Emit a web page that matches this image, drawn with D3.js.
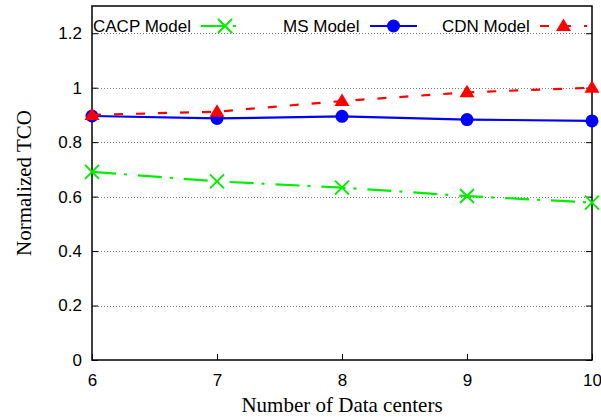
<!DOCTYPE html>
<html>
<head>
<meta charset="utf-8">
<script src="https://cdn.jsdelivr.net/npm/d3@7"></script>
<style>
  html, body { margin: 0; padding: 0; background: #fff; }
  svg { display: block; }
</style>
</head>
<body>
<svg id="chart" width="601" height="418"></svg>
<script>
// Data: normalized total cost of ownership vs. number of data centers
const dataCenters = [6, 7, 8, 9, 10];
const cacpModel = [0.691, 0.656, 0.633, 0.602, 0.578];
const msModel   = [0.896, 0.887, 0.895, 0.883, 0.878];
const cdnModel  = [0.900, 0.912, 0.951, 0.983, 1.000];
const yTicks = [0, 0.2, 0.4, 0.6, 0.8, 1, 1.2];
const xTicks = [6, 7, 8, 9, 10];

const series = [
  { name: "CACP Model", values: cacpModel, color: "#00ee00", dash: "24,8,3,11", marker: "cross" },
  { name: "MS Model",   values: msModel,   color: "#0000ff", dash: null,        marker: "circle" },
  { name: "CDN Model",  values: cdnModel,  color: "#ff0000", dash: "9,13",      marker: "triangle" }
];

const svg = d3.select("#chart");
const m = { left: 92, right: 9, top: 6, bottom: 58 };
const W = 601, H = 418;
const x = d3.scaleLinear().domain([6, 10]).range([m.left, W - m.right]);
const y = d3.scaleLinear().domain([0, 1.3]).range([H - m.bottom, m.top]);

const sansFont = "'Liberation Sans', Arial, Helvetica, sans-serif";
const serifFont = "'Liberation Serif', 'Times New Roman', serif";

// Horizontal dotted grid
svg.append("g")
  .selectAll("line")
  .data(yTicks.filter(d => d > 0))
  .join("line")
  .attr("x1", x(6)).attr("x2", x(10))
  .attr("y1", d => Math.round(y(d)) + 0.5).attr("y2", d => Math.round(y(d)) + 0.5)
  .attr("stroke", "#777").attr("stroke-width", 1)
  .attr("stroke-dasharray", "1,2");

// Axes with inward ticks
const yAxis = d3.axisLeft(y).tickValues(yTicks).tickSize(-6).tickPadding(10)
  .tickFormat(d => d3.format("")(+d.toFixed(1)));
const yAxisR = d3.axisRight(y).tickValues(yTicks).tickSize(-6).tickFormat("");
const xAxis = d3.axisBottom(x).tickValues(xTicks).tickSize(-6).tickPadding(14)
  .tickFormat(d3.format("d"));

function styleAxis(g) {
  g.select(".domain").remove();
  g.selectAll(".tick line").attr("stroke", "#000");
  g.selectAll(".tick text")
    .attr("fill", "#000")
    .style("font-family", sansFont)
    .style("font-size", "17px");
}

svg.append("g").attr("transform", `translate(${x(6)},0)`).call(yAxis).call(styleAxis);
svg.append("g").attr("transform", `translate(${x(10)},0)`).call(yAxisR).call(styleAxis);
svg.append("g").attr("transform", `translate(0,${y(0)})`).call(xAxis).call(styleAxis);

// Plot border
svg.append("rect")
  .attr("x", x(6)).attr("y", y(1.3))
  .attr("width", x(10) - x(6)).attr("height", y(0) - y(1.3))
  .attr("fill", "none").attr("stroke", "#000").attr("stroke-width", 1.5);

// Axis titles
svg.append("text")
  .attr("x", (x(6) + x(10)) / 2).attr("y", 412)
  .attr("text-anchor", "middle")
  .style("font-family", serifFont).style("font-size", "21px")
  .text("Number of Data centers");

svg.append("text")
  .attr("transform", `translate(31,${(y(0) + y(1.3)) / 2}) rotate(-90)`)
  .attr("text-anchor", "middle")
  .style("font-family", serifFont).style("font-size", "21px")
  .text("Normalized TCO");

// Marker drawing
function drawMarker(g, type, color) {
  if (type === "circle") {
    g.append("circle").attr("r", 6.5).attr("fill", color);
  } else if (type === "triangle") {
    g.append("path").attr("d", "M0,-7.5 L7.5,5 L-7.5,5 Z").attr("fill", color);
  } else if (type === "cross") {
    g.append("path").attr("d", "M-7,-7 L7,7 M-7,7 L7,-7")
      .attr("stroke", color).attr("stroke-width", 2).attr("fill", "none");
  }
}

const line = d3.line().x((d, i) => x(dataCenters[i])).y(d => y(d));

series.forEach(s => {
  const g = svg.append("g");
  g.append("path")
    .datum(s.values)
    .attr("d", line)
    .attr("fill", "none")
    .attr("stroke", s.color)
    .attr("stroke-width", 2.2)
    .attr("stroke-dasharray", s.dash);
  s.values.forEach((v, i) => {
    const mg = g.append("g").attr("transform", `translate(${x(dataCenters[i])},${y(v)})`);
    drawMarker(mg, s.marker, s.color);
  });
});

// Legend inside the top of the plot
const legendY = 26;
const legendItems = [
  { textX: 93,  lineX1: 201, lineX2: 241 },
  { textX: 283, lineX1: 370, lineX2: 417 },
  { textX: 442, lineX1: 540, lineX2: 587 }
];
series.forEach((s, i) => {
  const li = legendItems[i];
  const g = svg.append("g");
  g.append("text")
    .attr("x", li.textX).attr("y", legendY + 6)
    .style("font-family", sansFont).style("font-size", "17px")
    .text(s.name);
  g.append("line")
    .attr("x1", li.lineX1).attr("x2", li.lineX2)
    .attr("y1", legendY).attr("y2", legendY)
    .attr("stroke", s.color).attr("stroke-width", 2.2)
    .attr("stroke-dasharray", s.dash);
  const mg = g.append("g").attr("transform", `translate(${(li.lineX1 + li.lineX2) / 2 + (i === 0 ? 4 : 0)},${legendY})`);
  drawMarker(mg, s.marker, s.color);
});
</script>
</body>
</html>
